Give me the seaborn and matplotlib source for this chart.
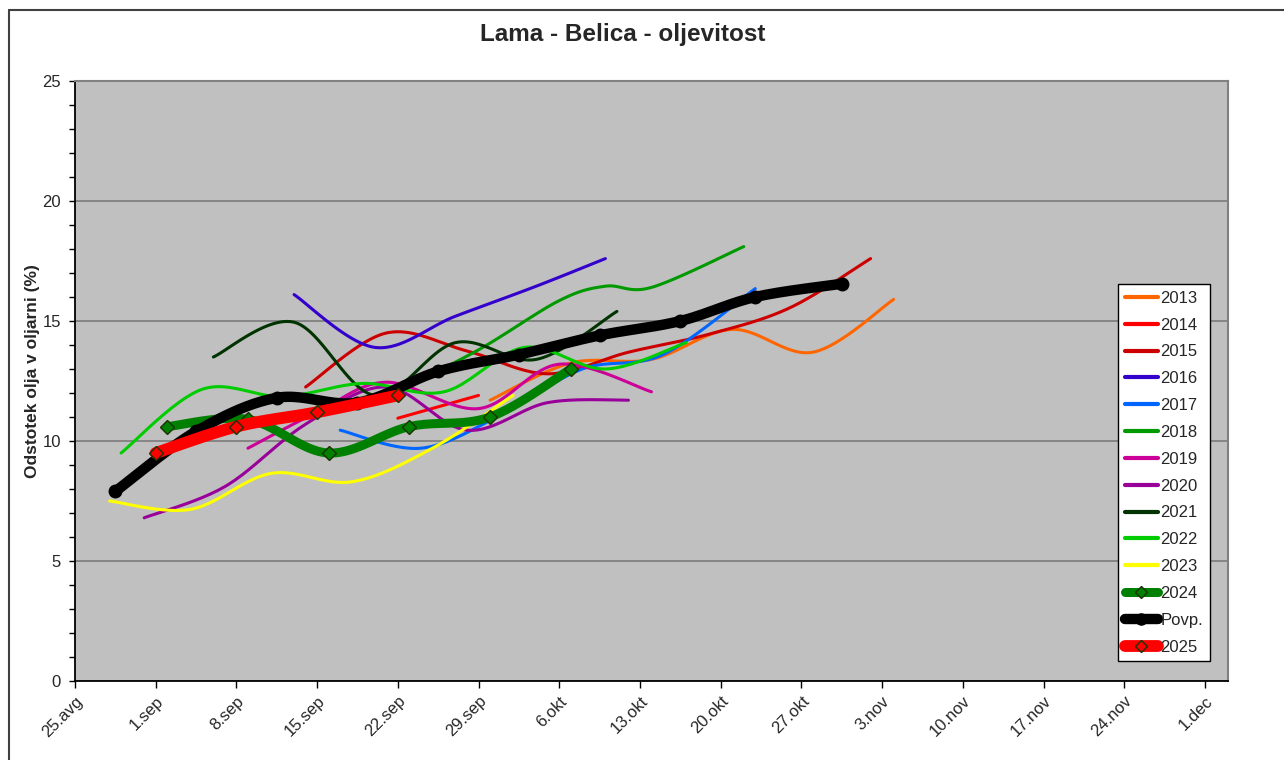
import numpy as np
import pandas as pd
import seaborn as sns
import matplotlib.pyplot as plt
from matplotlib.lines import Line2D

# x values are days after 25 Aug, y values are oil content (%)
tick_days = [0, 7, 14, 21, 28, 35, 42, 49, 56, 63, 70, 77, 84, 91, 98]
tick_labels = ["25.avg", "1.sep", "8.sep", "15.sep", "22.sep", "29.sep", "6.okt",
               "13.okt", "20.okt", "27.okt", "3.nov", "10.nov", "17.nov", "24.nov", "1.dec"]

days_2013 = [36, 43, 50, 57, 64, 71]
vals_2013 = [11.7, 13.25, 13.4, 14.65, 13.7, 15.9]
days_2014 = [28, 35]
vals_2014 = [10.95, 11.9]
days_2015 = [20, 27, 34, 41, 48, 55, 62, 69]
vals_2015 = [12.25, 14.5, 13.75, 12.8, 13.7, 14.45, 15.55, 17.6]
days_2016 = [19, 26, 33, 40, 46]
vals_2016 = [16.1, 13.9, 15.2, 16.45, 17.6]
days_2017 = [23, 30, 37, 44, 51, 59]
vals_2017 = [10.45, 9.7, 11.1, 13.0, 13.6, 16.35]
days_2018 = [28, 35, 42, 46, 50, 58]
vals_2018 = [12.1, 13.8, 15.85, 16.45, 16.4, 18.1]
days_2019 = [15, 21, 27, 35, 42, 50]
vals_2019 = [9.7, 11.2, 12.45, 11.35, 13.2, 12.05]
days_2020 = [6, 13, 20, 27, 34, 41, 48]
vals_2020 = [6.8, 8.1, 10.7, 12.25, 10.45, 11.6, 11.7]
days_2021 = [12, 19, 26, 33, 40, 47]
vals_2021 = [13.5, 14.95, 11.9, 14.1, 13.4, 15.4]
days_2022 = [4, 11, 18, 25, 32, 39, 46, 53]
vals_2022 = [9.5, 12.15, 11.85, 12.4, 12.05, 13.9, 13.0, 14.1]
days_2023 = [3, 10, 17, 24, 31, 38]
vals_2023 = [7.5, 7.15, 8.65, 8.3, 9.7, 11.9]
days_2024 = [8, 15, 22, 29, 36, 43]
vals_2024 = [10.6, 10.9, 9.5, 10.6, 11.0, 13.0]
days_avg = [3.5, 10.5, 17.5, 24.5, 31.5, 38.5, 45.5, 52.5, 59, 66.5]
vals_avg = [7.9, 10.4, 11.8, 11.6, 12.9, 13.6, 14.4, 15.0, 16.0, 16.55]
days_2025 = [7, 14, 21, 28]
vals_2025 = [9.5, 10.6, 11.2, 11.9]


def smooth(xs, ys, n=25):
    # excel style smoothed line (bezier through the points)
    p = np.column_stack([xs, ys]).astype(float)
    if len(p) < 3:
        return p[:, 0], p[:, 1]
    p = np.vstack([p[0], p, p[-1]])
    t = np.linspace(0, 1, n)[:, None]
    segs = []
    for i in range(1, len(p) - 2):
        p0, p1, p2, p3 = p[i - 1], p[i], p[i + 1], p[i + 2]
        c1 = p1 + (p2 - p0) / 6
        c2 = p2 - (p3 - p1) / 6
        seg = (1 - t) ** 3 * p1 + 3 * (1 - t) ** 2 * t * c1 + 3 * (1 - t) * t ** 2 * c2 + t ** 3 * p2
        segs.append(seg if i == 1 else seg[1:])
    s = np.vstack(segs)
    return s[:, 0], s[:, 1]


series = [
    ("2013", days_2013, vals_2013, "#FF6600", 2.2, None),
    ("2014", days_2014, vals_2014, "#FF0000", 2.2, None),
    ("2015", days_2015, vals_2015, "#CC0000", 2.2, None),
    ("2016", days_2016, vals_2016, "#3300CC", 2.2, None),
    ("2017", days_2017, vals_2017, "#0066FF", 2.2, None),
    ("2018", days_2018, vals_2018, "#009900", 2.2, None),
    ("2019", days_2019, vals_2019, "#CC0099", 2.2, None),
    ("2020", days_2020, vals_2020, "#990099", 2.2, None),
    ("2021", days_2021, vals_2021, "#003300", 2.2, None),
    ("2022", days_2022, vals_2022, "#00CC00", 2.2, None),
    ("2023", days_2023, vals_2023, "#FFFF00", 2.2, None),
    ("2024", days_2024, vals_2024, "#008000", 6.5, "D"),
    ("Povp.", days_avg, vals_avg, "#000000", 7.5, "o"),
    ("2025", days_2025, vals_2025, "#FF0000", 8.5, "D"),
]

sns.set_theme(style="white")
plt.rcParams["font.family"] = ["Liberation Sans", "DejaVu Sans"]

fig = plt.figure(figsize=(12.84, 7.6), dpi=100)
ax = fig.add_axes([75 / 1284, 1 - 681 / 760, 1153 / 1284, 600 / 760])
ax.set_facecolor("#C0C0C0")

handles = []
for i, (name, xs, ys, col, lw, mk) in enumerate(series):
    sx, sy = smooth(xs, ys)
    df = pd.DataFrame({"day": sx, "val": sy})
    sns.lineplot(data=df, x="day", y="val", sort=False, estimator=None, color=col,
                 linewidth=lw, ax=ax, zorder=3 + i, solid_capstyle="round")
    if mk == "D":
        ax.plot(xs, ys, linestyle="none", marker="D", markersize=7.5, markerfacecolor=col,
                markeredgecolor="#1a3300", markeredgewidth=1.0, zorder=3 + i)
        handles.append(Line2D([], [], color=col, lw=lw, marker="D", markersize=6,
                              markerfacecolor=col, markeredgecolor="#1a3300", solid_capstyle="round"))
    elif mk == "o":
        ax.plot(xs, ys, linestyle="none", marker="o", markersize=9, color=col, zorder=3 + i)
        handles.append(Line2D([], [], color=col, lw=lw, marker="o", markersize=8,
                              solid_capstyle="round"))
    else:
        handles.append(Line2D([], [], color=col, lw=3, solid_capstyle="round"))

ax.set_xlim(0, 100)
ax.set_ylim(0, 25)
ax.set_xticks(tick_days)
ax.set_xticklabels(tick_labels, rotation=45, ha="right", rotation_mode="anchor", fontsize=12)
ax.set_yticks([0, 5, 10, 15, 20, 25])
ax.set_yticks(np.arange(0, 26, 1), minor=True)
ax.tick_params(axis="y", which="both", direction="out", length=4, width=1, color="black",
               left=True, labelsize=12, pad=6)
ax.tick_params(axis="x", which="major", direction="out", length=5, width=1, color="black",
               bottom=True, pad=4)
ax.yaxis.grid(True, color="#808080", linewidth=1.3)
ax.set_axisbelow(True)
for s in ["top", "right"]:
    ax.spines[s].set_color("#808080")
    ax.spines[s].set_linewidth(1.5)
for s in ["left", "bottom"]:
    ax.spines[s].set_color("black")
    ax.spines[s].set_linewidth(1.3)
ax.set_xlabel("")
ax.set_ylabel("Odstotek olja v oljarni (%)", fontsize=12.5, fontweight="bold", labelpad=2)
ax.yaxis.set_label_coords(40 / 1284, 1 - 371 / 760, transform=fig.transFigure)

fig.text(623 / 1284, 1 - 35 / 760, "Lama - Belica - oljevitost", fontsize=17.5,
         fontweight="bold", ha="center", va="center")

leg = ax.legend(handles, [s[0] for s in series], loc="upper left",
                bbox_to_anchor=(1118 / 1284, 1 - 284 / 760), bbox_transform=fig.transFigure,
                borderaxespad=0, fancybox=False, frameon=True, fontsize=12,
                handlelength=2.0, handletextpad=0.15, labelspacing=0.71, borderpad=0.4)
leg.get_frame().set_edgecolor("black")
leg.get_frame().set_linewidth(1.0)
leg.get_frame().set_facecolor("white")
leg.get_frame().set_alpha(1)

# chart area border
fig.add_artist(Line2D([9 / 1284, 1], [1 - 10 / 760, 1 - 10 / 760], color="#404040", lw=1.5))
fig.add_artist(Line2D([9 / 1284, 9 / 1284], [0, 1 - 10 / 760], color="#404040", lw=1.5))

fig.savefig("out.png", dpi=100)
